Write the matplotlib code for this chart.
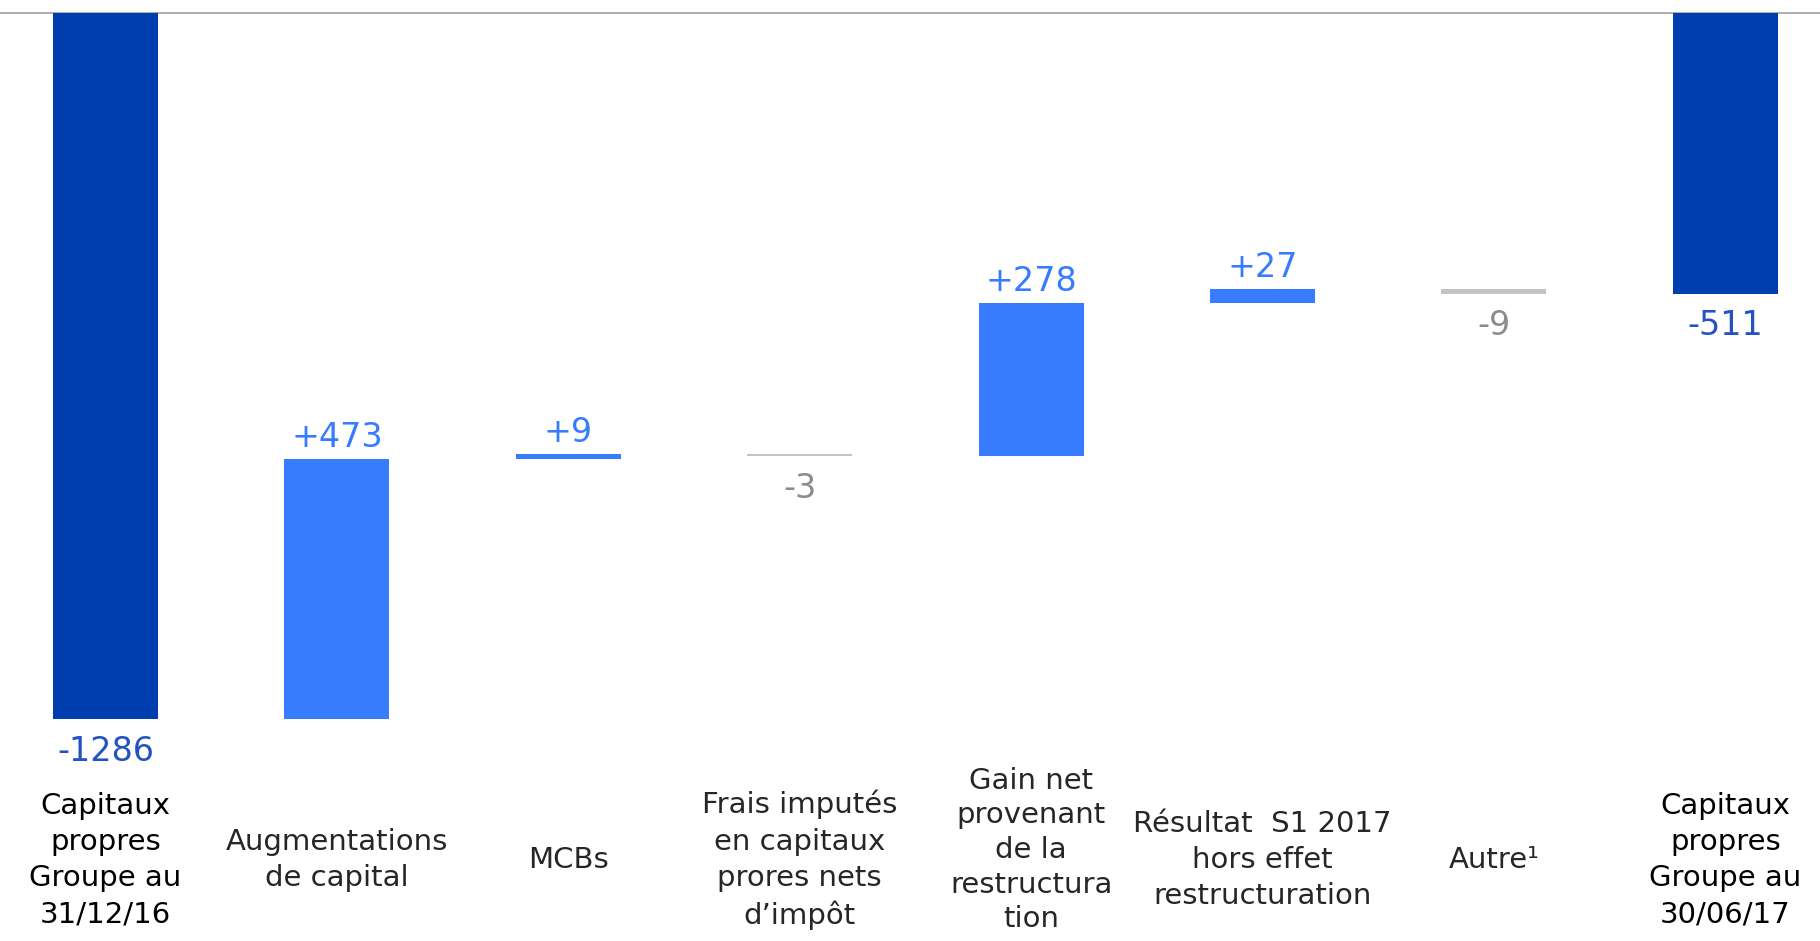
import matplotlib
matplotlib.use("Agg")
import matplotlib.pyplot as plt
import numpy as np

categories = [
    "Capitaux\npropres\nGroupe au\n31/12/16",
    "Augmentations\nde capital",
    "MCBs",
    "Frais imputés\nen capitaux\nprores nets\nd\u2019impôt",
    "Gain net\nprovenant\nde la\nrestructura\ntion",
    "Résultat  S1 2017\nhors effet\nrestructuration",
    "Autre\u00b9",
    "Capitaux\npropres\nGroupe au\n30/06/17",
]
values = [-1286, 473, 9, -3, 278, 27, -9, -511]
value_labels = ["-1286", "+473", "+9", "-3", "+278", "+27", "-9", "-511"]
is_total = [True, False, False, False, False, False, False, True]

DARK = "#003DAE"
LIGHT = "#377BFF"
GREY_BAR = "#C3C3C3"
GREY_TXT = "#8C8C8C"
DARK_TXT = "#2452C2"

W, H = 1820, 941
fig = plt.figure(figsize=(W / 100, H / 100), dpi=100)
ax = fig.add_axes([0, 0, 1, 1])

# pixel geometry of the reference
x0_px, step_px = 105.5, 231.4
y0_px, scale_px = 13.0, 706.0 / 1286.0
ax.set_xlim((0 - x0_px) / step_px, (W - x0_px) / step_px)
ax.set_ylim(-(H - y0_px) / scale_px, y0_px / scale_px)
ax.axis("off")

ax.axhline(0, color="#A8A8A8", lw=1.3, zorder=1)

running = 0.0
x = np.arange(len(values))
for i, (v, lab, tot) in enumerate(zip(values, value_labels, is_total)):
    if tot:
        bottom, top = min(0, v), max(0, v)
        color, tcol = DARK, DARK_TXT
        running = v
    else:
        start = running
        end = running + v
        bottom, top = min(start, end), max(start, end)
        color = LIGHT if v > 0 else GREY_BAR
        tcol = LIGHT if v > 0 else GREY_TXT
        running = end
    ax.bar(x[i], top - bottom, bottom=bottom, width=0.454, color=color,
           edgecolor="none", zorder=2)
    if tot or v < 0:
        ax.annotate(lab, (x[i], bottom), xytext=(0, -30),
                    textcoords="offset points", ha="center", va="baseline",
                    fontsize=24, color=tcol)
    else:
        ax.annotate(lab, (x[i], top), xytext=(0, 8.6),
                    textcoords="offset points", ha="center", va="baseline",
                    fontsize=24, color=tcol)

# category labels, vertically centred around y ~ 860 px
for i, (c, tot) in enumerate(zip(categories, is_total)):
    nlines = c.count("\n") + 1
    cy = 860 if nlines < 5 else 850
    ls = 1.375 if nlines < 5 else 1.3
    ax.text(x[i], -(cy - y0_px) / scale_px, c, ha="center", va="center",
            fontsize=21, linespacing=ls,
            color="black" if tot else "#262626", fontweight="normal")

fig.savefig("out.png", dpi=100)
